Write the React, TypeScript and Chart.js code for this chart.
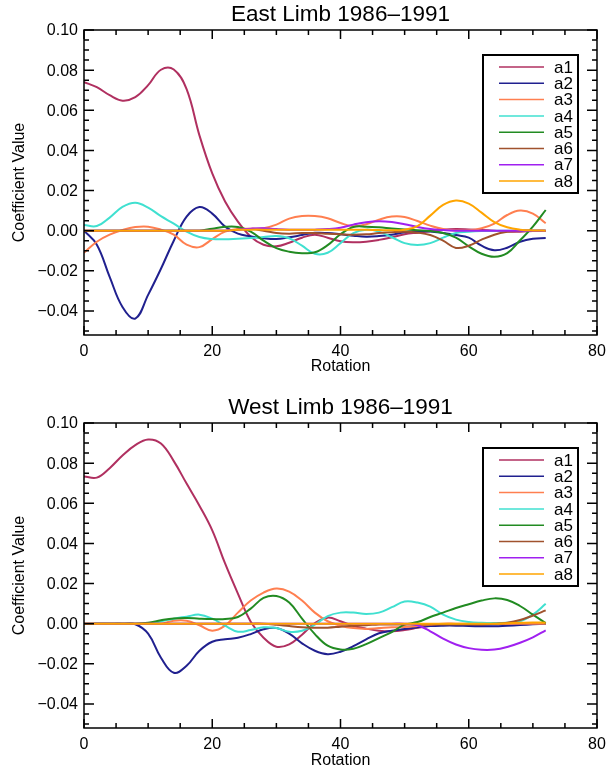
import React, { useEffect, useRef } from "react";
import { Chart, registerables } from "chart.js";

Chart.register(...registerables);

const ROTATION = [0, 2, 4, 6, 8, 10, 12, 14, 16, 18, 20, 22, 24, 26, 28, 30, 32, 34, 36, 38, 40, 42, 44, 46, 48, 50, 52, 54, 56, 58, 60, 62, 64, 66, 68, 70, 72];

const SERIES_LABELS = ["a1", "a2", "a3", "a4", "a5", "a6", "a7", "a8"];
const SERIES_COLORS = ["#B03060", "#20208F", "#FF7F50", "#40E0D0", "#228B22", "#A0522D", "#A020F0", "#FFA500"];

const X_TICKS = [0, 20, 40, 60, 80];
const Y_TICKS = [-0.04, -0.02, 0.0, 0.02, 0.04, 0.06, 0.08, 0.1];

// East Limb 1986-1991
const EAST_A1 = [0.074, 0.0715, 0.0675, 0.0648, 0.0665, 0.0725, 0.0802, 0.0803, 0.0705, 0.0475, 0.0285, 0.0145, 0.0045, -0.003, -0.007, -0.0078, -0.006, -0.0035, -0.002, -0.0035, -0.0053, -0.0058, -0.0055, -0.0046, -0.0033, -0.0018, -0.001, -0.0003, 0.0005, 0.0008, 0.0006, 0.0003, 0, -0.0004, -0.0005, -0.0002, 0];
const EAST_A2 = [0, -0.007, -0.023, -0.038, -0.0438, -0.032, -0.019, -0.005, 0.007, 0.0118, 0.0085, 0.002, -0.0015, -0.0028, -0.0038, -0.0042, -0.0033, -0.0022, -0.0011, -0.0012, -0.0018, -0.0025, -0.003, -0.0027, -0.002, -0.0008, -0.0002, -0.0004, -0.0012, -0.0022, -0.0035, -0.0075, -0.0098, -0.0085, -0.0055, -0.004, -0.0037];
const EAST_A3 = [-0.011, -0.0055, -0.002, 0.0003, 0.0018, 0.002, 0.0005, -0.002, -0.007, -0.0082, -0.0042, -0.0005, 0.0008, 0.001, 0.0012, 0.003, 0.006, 0.0073, 0.0073, 0.0062, 0.0038, 0.0022, 0.0032, 0.0055, 0.007, 0.0068, 0.0048, 0.0025, 0.0008, 0.0001, 0.0002, 0.0012, 0.0035, 0.0078, 0.01, 0.0085, 0.0037];
const EAST_A4 = [0.0028, 0.0023, 0.0065, 0.0118, 0.0139, 0.0115, 0.0072, 0.0035, -0.0005, -0.0032, -0.0042, -0.0043, -0.004, -0.0037, -0.0032, -0.0027, -0.0038, -0.0075, -0.0115, -0.011, -0.0062, -0.0012, 0.0005, -0.0005, -0.0033, -0.0062, -0.0071, -0.0062, -0.0035, -0.0012, -0.0006, -0.0002, 0, 0, 0, 0, 0];
const EAST_A5 = [0, 0, 0, 0, 0, 0, 0, 0, 0, 0, 0.001, 0.0019, 0.0018, -0.0005, -0.005, -0.0087, -0.0105, -0.0112, -0.0108, -0.0072, -0.0018, 0.0018, 0.002, 0.0017, 0.0011, 0.0006, 0.0002, -0.0002, -0.0012, -0.0035, -0.0078, -0.0115, -0.013, -0.0112, -0.0048, 0.002, 0.0103];
const EAST_A6 = [0, 0, 0, 0, 0, 0, 0, 0, 0, 0, 0, 0, 0.0005, 0.0008, 0, -0.0012, -0.0015, -0.0012, -0.0012, -0.0015, -0.0018, -0.002, -0.0018, -0.0012, -0.0008, -0.0006, -0.001, -0.0022, -0.005, -0.0086, -0.0075, -0.0045, -0.002, -0.0006, 0, 0, 0];
const EAST_A7 = [0, 0, 0, 0, 0, 0, 0, 0, 0, 0, 0, 0, 0.0005, 0.001, 0.0012, 0.0008, 0.0005, 0.0004, 0.0005, 0.0008, 0.0015, 0.003, 0.0042, 0.0047, 0.0043, 0.0032, 0.0018, 0.0008, 0.0003, 0, 0, 0, 0, 0, 0, 0, 0];
const EAST_A8 = [0, 0, 0, 0, 0, 0, 0, 0, 0, 0, 0, 0, 0.0004, 0.0005, 0.0005, 0.0004, 0.0004, 0.0004, 0.0004, 0.0004, 0.0004, 0.0004, 0.0004, 0.0003, 0.0002, 0.0005, 0.0022, 0.0075, 0.0128, 0.015, 0.0135, 0.009, 0.0043, 0.0017, 0.0005, 0.0001, 0];

// West Limb 1986-1991
const WEST_A1 = [0.0734, 0.0728, 0.0775, 0.0838, 0.089, 0.0918, 0.0898, 0.081, 0.0698, 0.0588, 0.0465, 0.03, 0.015, 0.001, -0.007, -0.0115, -0.0103, -0.0055, 0.0003, 0.003, 0.0012, -0.0012, -0.0025, -0.0035, -0.0038, -0.0032, -0.0021, -0.001, -0.0003, -0.0003, -0.0005, -0.0005, -0.0003, 0, 0, 0, 0];
const WEST_A2 = [0, 0, 0, 0, -0.0003, -0.005, -0.017, -0.0245, -0.021, -0.0135, -0.009, -0.0078, -0.007, -0.0052, -0.0028, -0.0022, -0.005, -0.0098, -0.0135, -0.0152, -0.014, -0.0112, -0.0078, -0.0048, -0.0035, -0.0027, -0.0018, -0.0012, -0.001, -0.001, -0.0012, -0.0013, -0.0013, -0.001, -0.0007, -0.0003, 0];
const WEST_A3 = [0, 0, 0, 0, 0, 0, 0, 0.0015, 0.0015, -0.0008, -0.0035, -0.001, 0.0055, 0.0115, 0.0155, 0.0175, 0.016, 0.0115, 0.0055, 0.0012, -0.001, -0.0022, -0.0026, -0.0022, -0.0018, -0.0017, -0.0012, -0.0005, 0, 0, 0, 0, 0, 0, 0, 0, 0];
const WEST_A4 = [0, 0, 0, 0, 0, 0, 0.0012, 0.0025, 0.0035, 0.0045, 0.0025, -0.001, -0.004, -0.0032, -0.0018, -0.0022, -0.004, -0.0035, -0.0005, 0.0038, 0.0055, 0.0055, 0.0048, 0.0055, 0.0082, 0.011, 0.0105, 0.0085, 0.0045, 0.002, 0.0008, 0.0004, 0.0003, 0.0005, 0.0012, 0.0045, 0.0099];
const WEST_A5 = [0, 0, 0, 0, 0, 0.0005, 0.0017, 0.0026, 0.0028, 0.0025, 0.0023, 0.0023, 0.0033, 0.0075, 0.0128, 0.0138, 0.0105, 0.0025, -0.0052, -0.011, -0.0129, -0.0125, -0.0102, -0.0072, -0.0042, -0.0005, 0.0008, 0.0033, 0.0055, 0.0078, 0.0097, 0.0115, 0.0126, 0.0118, 0.0088, 0.0045, 0.0003];
const WEST_A6 = [0, 0, 0, 0, 0, 0, 0, 0, 0, 0, 0, 0, 0, 0, 0, -0.0005, -0.0012, -0.0018, -0.002, -0.002, -0.0015, -0.001, -0.0008, -0.0004, -0.0004, -0.0004, -0.0004, -0.0004, -0.0004, -0.0004, -0.0004, -0.0004, 0, 0.0005, 0.0018, 0.004, 0.0066];
const WEST_A7 = [0, 0, 0, 0, 0, 0, 0, 0, 0, 0, 0, 0, 0, 0, 0, 0, 0, 0, 0, 0, 0, 0, 0, 0, 0, 0, -0.0008, -0.0038, -0.0075, -0.0104, -0.0122, -0.013, -0.0129, -0.0116, -0.0095, -0.0068, -0.0033];
const WEST_A8 = [0, 0, 0, 0, 0, 0, 0, 0, 0, 0, 0, 0, 0, 0, 0, 0, 0, 0, 0, 0, 0, 0, 0, 0, 0, 0, 0, 0, 0, 0, 0, 0, 0, 0.0002, 0.0004, 0.0006, 0.0005];

const EAST_SERIES = [EAST_A1, EAST_A2, EAST_A3, EAST_A4, EAST_A5, EAST_A6, EAST_A7, EAST_A8];
const WEST_SERIES = [WEST_A1, WEST_A2, WEST_A3, WEST_A4, WEST_A5, WEST_A6, WEST_A7, WEST_A8];

const FONT = "'Liberation Sans', Arial, Helvetica, sans-serif";
const W = 615;
const PLOT_LEFT = 84;
const PLOT_RIGHT = 597;
const PLOT_TOP = 30;
const PLOT_BOTTOM = 335;

const frameAndLegend = {
  id: "frameAndLegend",
  afterDatasetsDraw(chart: any) {
    const { ctx, chartArea } = chart;
    const { left, right, top, bottom } = chartArea;
    const xs = chart.scales.x;
    const ys = chart.scales.y;
    ctx.save();
    // title centred over the plot
    ctx.fillStyle = "#000";
    ctx.font = `22.5px ${FONT}`;
    ctx.textAlign = "center";
    ctx.textBaseline = "middle";
    ctx.fillText(chart.options.plugins.plotTitle.text, (left + right) / 2, 15);

    ctx.strokeStyle = "#000";
    ctx.lineWidth = 1.5;
    ctx.strokeRect(left, top, right - left, bottom - top);
    // x ticks every 5, major every 20
    for (let i = 0; i <= 16; i++) {
      const v = i * 5;
      const px = xs.getPixelForValue(v);
      const len = i % 4 === 0 ? 9 : 5;
      ctx.beginPath();
      ctx.moveTo(px, bottom);
      ctx.lineTo(px, bottom - len);
      ctx.moveTo(px, top);
      ctx.lineTo(px, top + len);
      ctx.stroke();
    }
    // y ticks every 0.005, major every 0.02
    for (let i = -10; i <= 20; i++) {
      const v = i * 0.005;
      if (v < ys.min - 1e-9 || v > ys.max + 1e-9) continue;
      const py = ys.getPixelForValue(v);
      const len = i % 4 === 0 ? 10 : 5;
      ctx.beginPath();
      ctx.moveTo(left, py);
      ctx.lineTo(left + len, py);
      ctx.moveTo(right, py);
      ctx.lineTo(right - len, py);
      ctx.stroke();
    }
    // legend
    const boxL = right - 114;
    const boxT = top + 25;
    const boxW = 95;
    const rowH = 16.3;
    const boxH = 138;
    ctx.fillStyle = "#fff";
    ctx.fillRect(boxL, boxT, boxW, boxH);
    ctx.strokeStyle = "#000";
    ctx.lineWidth = 2;
    ctx.strokeRect(boxL, boxT, boxW, boxH);
    ctx.font = `17px ${FONT}`;
    ctx.textBaseline = "middle";
    ctx.textAlign = "left";
    chart.data.datasets.forEach((ds: any, i: number) => {
      const y = boxT + 12 + i * rowH;
      ctx.strokeStyle = ds.borderColor;
      ctx.lineWidth = 1.5;
      ctx.beginPath();
      ctx.moveTo(boxL + 16, y);
      ctx.lineTo(boxL + 61, y);
      ctx.stroke();
      ctx.fillStyle = "#000";
      ctx.fillText(ds.label, boxL + 71, y + 1);
    });
    ctx.restore();
  },
};

function fmtY(v: number) {
  if (Math.abs(v) < 1e-9) return "0.00";
  return (v < 0 ? "\u2212" : "") + Math.abs(v).toFixed(2);
}

function makeConfig(title: string, series: number[][], canvasH: number, xTitleBottom: number): any {
  return {
    type: "line",
    data: {
      datasets: series.map((vals, i) => ({
        label: SERIES_LABELS[i],
        data: ROTATION.map((x, j) => ({ x, y: vals[j] })),
        borderColor: SERIES_COLORS[i],
        backgroundColor: SERIES_COLORS[i],
        borderWidth: 2,
        pointRadius: 0,
        tension: 0.4,
        fill: false,
        order: 7 - i,
      })),
    },
    options: {
      animation: false,
      responsive: false,
      devicePixelRatio: 1,
      layout: { padding: { left: 0, right: W - PLOT_RIGHT, top: PLOT_TOP, bottom: 0 } },
      plugins: {
        legend: { display: false },
        tooltip: { enabled: false },
        title: { display: false },
        plotTitle: { text: title },
      },
      scales: {
        x: {
          type: "linear",
          min: 0,
          max: 80,
          afterBuildTicks: (scale: any) => {
            scale.ticks = X_TICKS.map((v) => ({ value: v }));
          },
          afterFit: (scale: any) => {
            scale.height = canvasH - PLOT_BOTTOM;
          },
          grid: { display: false, drawTicks: false },
          border: { display: false },
          ticks: {
            color: "#000",
            font: { family: FONT, size: 16 },
            padding: 7,
            maxRotation: 0,
            callback: (v: any) => String(v),
          },
          title: {
            display: true,
            text: "Rotation",
            color: "#000",
            font: { family: FONT, size: 16 },
            padding: { top: 0, bottom: xTitleBottom },
          },
        },
        y: {
          type: "linear",
          min: -0.052,
          max: 0.1,
          afterBuildTicks: (scale: any) => {
            scale.ticks = Y_TICKS.map((v) => ({ value: v }));
          },
          afterFit: (scale: any) => {
            scale.width = PLOT_LEFT;
          },
          grid: { display: false, drawTicks: false },
          border: { display: false },
          ticks: {
            color: "#000",
            font: { family: FONT, size: 16 },
            padding: 6,
            labelOffset: 1,
            callback: (v: any) => fmtY(Number(v)),
          },
          title: {
            display: true,
            text: "Coefficient Value",
            color: "#000",
            font: { family: FONT, size: 16 },
            padding: { top: 10, bottom: 0 },
          },
        },
      },
    },
    plugins: [frameAndLegend],
  };
}

function LimbChart({ title, series, height, xTitleBottom }: { title: string; series: number[][]; height: number; xTitleBottom: number }) {
  const ref = useRef<HTMLCanvasElement | null>(null);
  useEffect(() => {
    if (!ref.current) return;
    const chart = new Chart(ref.current, makeConfig(title, series, height, xTitleBottom));
    return () => chart.destroy();
  }, [title, series, height, xTitleBottom]);
  return <canvas ref={ref} width={W} height={height} style={{ display: "block", width: W, height }} />;
}

export default function App() {
  return (
    <div style={{ position: "absolute", left: 0, top: 0, width: W, height: 771, background: "#fff" }}>
      <LimbChart title={"East Limb 1986\u20131991"} series={EAST_SERIES} height={393} xTitleBottom={17} />
      <LimbChart title={"West Limb 1986\u20131991"} series={WEST_SERIES} height={378} xTitleBottom={0.5} />
    </div>
  );
}
